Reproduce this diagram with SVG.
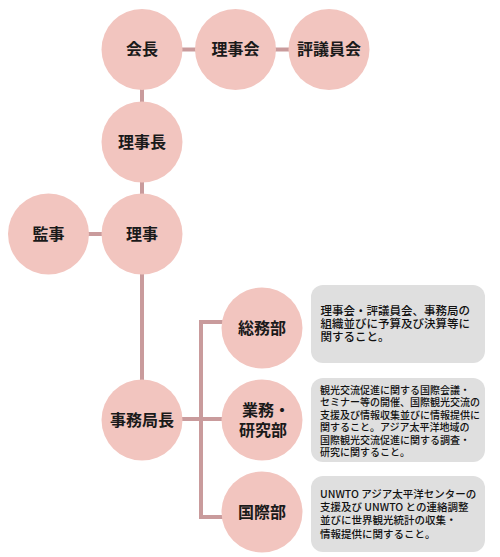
<svg xmlns="http://www.w3.org/2000/svg" width="500" height="557" viewBox="0 0 500 557">
<style>
.c{fill:#f2c5bf}
.n{font-family:"Noto Sans CJK JP","Noto Sans CJK SC",sans-serif;font-size:16px;font-weight:bold;fill:#1a1a1a;text-anchor:middle}
.b{fill:#dfdfdf}
.t{font-family:"Noto Sans CJK JP","Noto Sans CJK SC",sans-serif;font-weight:500;fill:#111111}
.ln{stroke:#c99b9c;stroke-width:4;fill:none}
</style>
<rect width="500" height="557" fill="#ffffff"/>
<g id="connectors">
<line class="ln" x1="170" y1="49.5" x2="205" y2="49.5"/>
<line class="ln" x1="265" y1="49.5" x2="300" y2="49.5"/>
<line class="ln" x1="142" y1="80" x2="142" y2="110"/>
<line class="ln" x1="142" y1="170" x2="142" y2="205"/>
<line class="ln" x1="70" y1="234" x2="110" y2="234"/>
<line class="ln" x1="142" y1="260" x2="142" y2="390"/>
<polyline class="ln" points="240,322 201,322 201,517 240,517"/>
<line class="ln" x1="170" y1="419" x2="240" y2="419"/>
</g>
<g id="kaicho"><circle class="c" cx="142" cy="49.5" r="40.5"/><text class="n" x="142" y="55">会長</text></g>
<g id="rijikai"><circle class="c" cx="235.5" cy="49.5" r="40.5"/><text class="n" x="235.5" y="55">理事会</text></g>
<g id="hyogiinkai"><circle class="c" cx="329" cy="49.5" r="40.5"/><text class="n" x="329" y="55">評議員会</text></g>
<g id="rijicho"><circle class="c" cx="142" cy="142" r="40.5"/><text class="n" x="142" y="147.5">理事長</text></g>
<g id="riji"><circle class="c" cx="142" cy="234" r="40.5"/><text class="n" x="142" y="239.5">理事</text></g>
<g id="kanji"><circle class="c" cx="48.5" cy="234" r="40.5"/><text class="n" x="48.5" y="239.5">監事</text></g>
<g id="jimukyokucho"><circle class="c" cx="142" cy="420" r="40.5"/><text class="n" x="142" y="425.5">事務局長</text></g>
<g id="somubu"><circle class="c" cx="262" cy="328" r="40.5"/><text class="n" x="262" y="333.5">総務部</text></g>
<g id="gyomu"><circle class="c" cx="262" cy="420" r="40.5"/><text class="n" x="266" y="416.3">業務・</text><text class="n" x="263" y="435.6">研究部</text></g>
<g id="kokusaibu"><circle class="c" cx="262" cy="512" r="40.5"/><text class="n" x="262" y="517.5">国際部</text></g>
<g id="desc-somu">
<rect class="b" x="311" y="285" width="174" height="78" rx="12"/>
<text class="t" font-size="11.5"><tspan x="320.5" y="314.5">理事会・評議員会、事務局の</tspan><tspan x="320.5" y="328">組織並びに予算及び決算等に</tspan><tspan x="320.5" y="341.3">関すること。</tspan></text>
</g>
<g id="desc-gyomu">
<rect class="b" x="311" y="378" width="174" height="84" rx="12"/>
<text class="t" font-size="10"><tspan x="320" y="393.5">観光交流促進に関する国際会議・</tspan><tspan x="320" y="406">セミナー等の開催、国際観光交流の</tspan><tspan x="320" y="418.5">支援及び情報収集並びに情報提供に</tspan><tspan x="320" y="431">関すること。アジア太平洋地域の</tspan><tspan x="320" y="443.5">国際観光交流促進に関する調査・</tspan><tspan x="320" y="456">研究に関すること。</tspan></text>
</g>
<g id="desc-kokusai">
<rect class="b" x="311" y="476" width="174" height="76" rx="12"/>
<text class="t" font-size="10.5"><tspan x="320" y="497.8">UNWTO アジア太平洋センターの</tspan><tspan x="320" y="511.1">支援及び UNWTO との連絡調整</tspan><tspan x="320" y="524.4">並びに世界観光統計の収集・</tspan><tspan x="320" y="537.7">情報提供に関すること。</tspan></text>
</g>
</svg>
